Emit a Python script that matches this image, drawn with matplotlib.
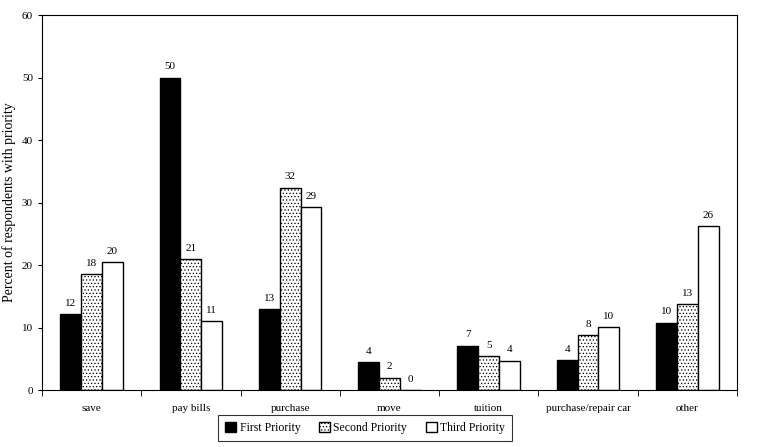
import matplotlib
matplotlib.use("Agg")
import matplotlib.pyplot as plt
import numpy as np

plt.rcParams['font.family'] = ['Liberation Serif', 'DejaVu Serif']
plt.rcParams['hatch.linewidth'] = 0.5

categories = ["save", "pay bills", "purchase", "move", "tuition", "purchase/repair car", "other"]
first = [12.1, 50.0, 12.9, 4.5, 7.1, 4.8, 10.8]
second = [18.5, 20.9, 32.4, 2.0, 5.4, 8.8, 13.8]
third = [20.5, 11.0, 29.3, 0.0, 4.7, 10.1, 26.2]
first_lbl = ["12", "50", "13", "4", "7", "4", "10"]
second_lbl = ["18", "21", "32", "2", "5", "8", "13"]
third_lbl = ["20", "11", "29", "0", "4", "10", "26"]
series_names = ["First Priority", "Second Priority", "Third Priority"]

fig = plt.figure(figsize=(7.77, 4.47), dpi=100)
ax = fig.add_axes([0.054, 0.1275, 0.8945, 0.8385])

x = np.arange(len(categories))
w = 0.21
styles = [dict(color='black', edgecolor='black'),
          dict(color='white', edgecolor='black', hatch='.....'),
          dict(color='white', edgecolor='black')]
data = [first, second, third]
labels = [first_lbl, second_lbl, third_lbl]
handles = []
for i in range(3):
    b = ax.bar(x + (i - 1) * w, data[i], w, linewidth=1.0, label=series_names[i], **styles[i])
    handles.append(b)
    for xi, v, t in zip(x + (i - 1) * w, data[i], labels[i]):
        ax.text(xi, v + 1.0, t, ha='center', va='bottom', fontsize=8)

ax.set_xlim(-0.5, len(categories) - 0.5)
ax.set_ylim(0, 60)
ax.set_yticks(range(0, 61, 10))
ax.tick_params(axis='y', labelsize=8, direction='out', length=3)
ax.set_xticks(x)
ax.set_xticklabels(categories, fontsize=8)
ax.tick_params(axis='x', length=0, pad=10)
ax.set_xticks(np.arange(-0.5, len(categories), 1), minor=True)
ax.tick_params(axis='x', which='minor', length=4, direction='out')
ax.set_ylabel("Percent of respondents with priority", fontsize=10)
for s in ax.spines.values():
    s.set_linewidth(0.8)

leg = fig.legend(handles=handles, loc='center', bbox_to_anchor=(0.47, 0.0425), ncol=3,
                 fontsize=8.5, frameon=True, fancybox=False, edgecolor='black',
                 handlelength=0.9, handleheight=0.9, handletextpad=0.3, columnspacing=1.6,
                 borderpad=0.6)
leg.get_frame().set_linewidth(0.8)

fig.savefig("out.png", dpi=100)
